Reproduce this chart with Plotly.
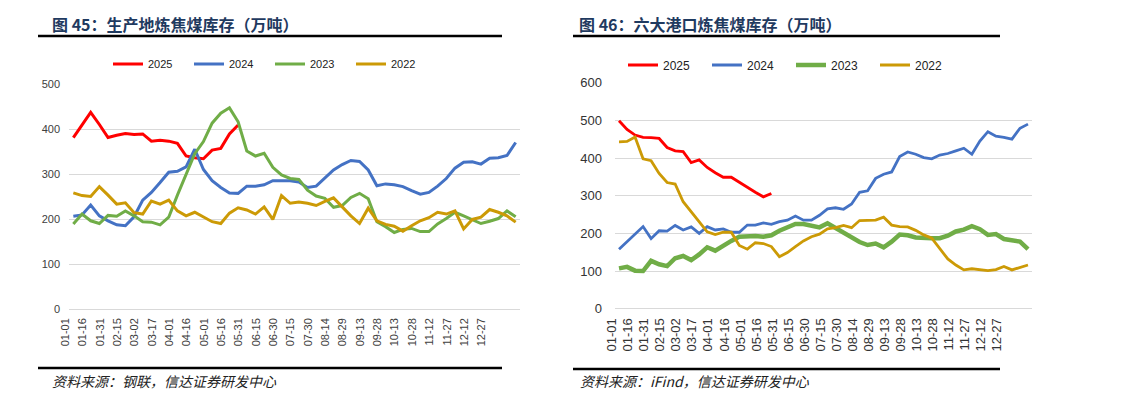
import plotly.graph_objects as go

W, H = 1137, 394

date_labels = ["01-01", "01-16", "01-31", "02-15", "03-02", "03-17", "04-01", "04-16",
               "05-01", "05-16", "05-31", "06-15", "06-30", "07-15", "07-30", "08-14",
               "08-29", "09-13", "09-28", "10-13", "10-28", "11-12", "11-27", "12-12", "12-27"]
years = ["2025", "2024", "2023", "2022"]

# 图45 生产地炼焦煤库存（万吨）
prod_2025 = [381, 409, 437, 410, 381, 386, 390, 388, 389, 373, 375, 373, 368, 340, 336, 334,
             353, 357, 389, 409]
prod_2024 = [206, 209, 231, 207, 196, 187, 185, 205, 242, 259, 281, 304, 306, 316, 355, 310,
             285, 270, 258, 257, 273, 273, 276, 285, 285, 285, 282, 270, 273, 290, 309, 321,
             330, 328, 309, 274, 278, 276, 272, 263, 255, 259, 273, 290, 313, 326, 327, 322,
             335, 336, 341, 370]
prod_2023 = [189, 211, 196, 190, 208, 206, 218, 207, 194, 193, 187, 204, 253, 300, 345, 372,
             413, 435, 447, 416, 351, 340, 346, 315, 298, 290, 288, 264, 251, 246, 226, 230,
             248, 257, 245, 194, 183, 170, 177, 179, 172, 172, 189, 201, 215, 207, 199, 190,
             195, 201, 218, 205]
prod_2022 = [258, 252, 250, 272, 253, 233, 236, 214, 211, 240, 233, 242, 218, 207, 215, 204,
             194, 190, 213, 225, 220, 211, 227, 199, 252, 235, 238, 235, 230, 239, 247, 227,
             207, 190, 224, 196, 188, 184, 173, 185, 196, 203, 215, 211, 218, 178, 199, 204,
             221, 215, 207, 193]

# 图46 六大港口炼焦煤库存（万吨）
port_2025 = [499, 476, 461, 455, 454, 452, 428, 419, 417, 388, 395, 375, 361, 349, 349, 335,
             321, 309, 297, 306]
port_2024 = [158, 178, 198, 218, 186, 207, 206, 221, 209, 217, 200, 218, 209, 212, 203, 203,
             222, 222, 228, 224, 231, 235, 246, 235, 235, 248, 265, 268, 264, 278, 309, 313,
             346, 357, 363, 404, 416, 410, 401, 398, 408, 412, 419, 426, 410, 445, 470, 458,
             455, 450, 479, 490]
port_2023 = [107, 111, 101, 100, 127, 118, 113, 134, 140, 129, 144, 163, 154, 168, 180, 191,
             192, 193, 191, 195, 207, 216, 225, 225, 221, 216, 227, 215, 203, 188, 177, 169,
             173, 163, 178, 197, 195, 189, 187, 187, 187, 194, 205, 210, 219, 211, 196, 198,
             185, 181, 178, 158]
port_2022 = [443, 444, 456, 398, 393, 359, 335, 331, 284, 258, 231, 204, 197, 203, 203, 168,
             158, 175, 173, 165, 138, 149, 165, 180, 191, 198, 212, 215, 221, 215, 234, 235,
             235, 243, 222, 218, 217, 208, 196, 187, 160, 132, 116, 103, 106, 104, 101, 104,
             112, 103, 109, 116]

colors = {"2025": "#FF0000", "2024": "#4472C4", "2023": "#70AD47", "2022": "#CC9A06"}


def fx(px):
    return px / W


def fy(py):
    return 1 - py / H


fig = go.Figure()

left = dict(zip(years, [prod_2025, prod_2024, prod_2023, prod_2022]))
right = dict(zip(years, [port_2025, port_2024, port_2023, port_2022]))

for y in years:
    vals = left[y]
    fig.add_trace(go.Scatter(x=list(range(len(vals))), y=vals, mode="lines", name=y,
                             line=dict(color=colors[y], width=3), xaxis="x", yaxis="y",
                             legend="legend"))
for y in years:
    vals = right[y]
    fig.add_trace(go.Scatter(x=list(range(len(vals))), y=vals, mode="lines", name=y,
                             line=dict(color=colors[y], width=4.5 if y == "2023" else 2.8),
                             xaxis="x2", yaxis="y2", legend="legend2"))

tickvals = [2 * k for k in range(len(date_labels))]
grid = "#D9D9D9"

xcommon = dict(range=[-0.5, 51.5], tickmode="array", tickvals=tickvals, ticktext=date_labels,
               tickangle=-90, showgrid=False, zeroline=False, showline=False, ticks="",
               fixedrange=True, automargin=False)
ycommon = dict(dtick=100, showgrid=True, gridcolor=grid, gridwidth=1, zeroline=True,
               zerolinecolor=grid, zerolinewidth=1, showline=False, ticks="",
               fixedrange=True, automargin=False)
fig.update_layout(
    width=W, height=H, margin=dict(l=0, r=0, t=0, b=0, autoexpand=False),
    paper_bgcolor="white", plot_bgcolor="white",
    xaxis=dict(domain=[fx(69), fx(520)], anchor="y", ticklabelstandoff=6, ticklabelshift=-8,
               tickfont=dict(family="Arial, Liberation Sans", size=11, color="#404040"), **xcommon),
    yaxis=dict(domain=[fy(309), fy(84)], anchor="x", range=[0, 500], ticklabelstandoff=8,
               tickfont=dict(family="Arial, Liberation Sans", size=11, color="#404040"), **ycommon),
    xaxis2=dict(domain=[fx(615), fx(1032)], anchor="y2", ticklabelstandoff=6, ticklabelshift=-7,
                tickfont=dict(family="Arial, Liberation Sans", size=13, color="#333333"), **xcommon),
    yaxis2=dict(domain=[fy(308.7), fy(82.7)], anchor="x2", range=[0, 600], ticklabelstandoff=12,
                tickfont=dict(family="Arial, Liberation Sans", size=13, color="#333333"), **ycommon),
    legend=dict(orientation="h", x=fx(108), y=fy(64), xanchor="left", yanchor="middle",
                bgcolor="rgba(0,0,0,0)", borderwidth=0, entrywidth=36, tracegroupgap=0,
                font=dict(family="Arial, Liberation Sans", size=11, color="#222222")),
    legend2=dict(orientation="h", x=fx(623), y=fy(65), xanchor="left", yanchor="middle",
                 bgcolor="rgba(0,0,0,0)", borderwidth=0, entrywidth=39, tracegroupgap=0,
                 font=dict(family="Arial, Liberation Sans", size=12, color="#222222")),
    showlegend=True,
)

title_font = dict(family="Noto Sans CJK SC", size=16, color="#1F3A60", weight="bold")
src_font = dict(family="Noto Sans CJK SC", size=14, color="#222222", style="italic")
annotations = [
    dict(text="图 45：生产地炼焦煤库存（万吨）", x=fx(50), y=fy(24), font=title_font),
    dict(text="图 46：六大港口炼焦煤库存（万吨）", x=fx(577), y=fy(24), font=title_font),
    dict(text="资料来源：钢联，信达证券研发中心", x=fx(50), y=fy(381), font=src_font),
    dict(text="资料来源：iFind，信达证券研发中心", x=fx(578), y=fy(381), font=src_font),
]
for a in annotations:
    fig.add_annotation(xref="paper", yref="paper", xanchor="left", yanchor="middle",
                       showarrow=False, **a)

for (x0, x1, yy) in [(38, 502, 36), (573, 1000, 36), (38, 502, 368), (573, 1000, 369)]:
    fig.add_shape(type="line", xref="paper", yref="paper", x0=fx(x0), x1=fx(x1),
                  y0=fy(yy), y1=fy(yy), line=dict(color="black", width=2.5))

fig.write_html("out.html", config={"displayModeBar": False},
               post_script="document.body.style.margin='0';document.body.style.overflow='hidden';")
